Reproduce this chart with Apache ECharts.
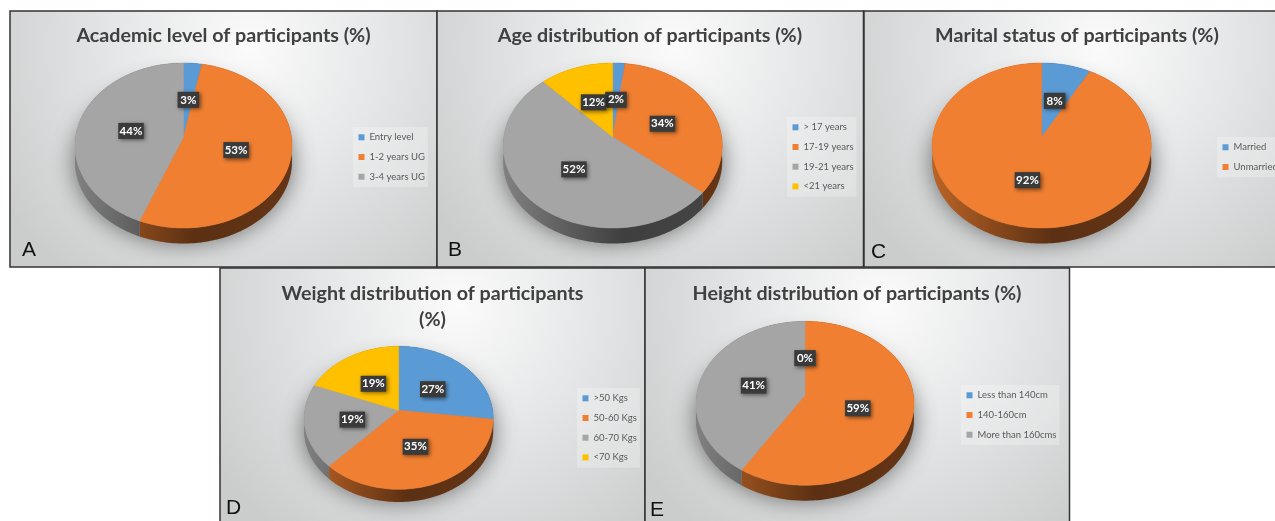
<!DOCTYPE html>
<html>
<head>
<meta charset="utf-8">
<style>html,body{margin:0;padding:0;background:#fff}#chart{width:1275px;height:521px}</style>
<script src="https://cdn.jsdelivr.net/npm/echarts@6/dist/echarts.min.js"></script>
</head>
<body>
<div id="chart"></div>
<script>
// Survey results, in percent
const academicLabels = ['Entry level', '1-2 years UG', '3-4 years UG'];
const academicValues = [3, 53, 44];
const ageLabels = ['> 17 years', '17-19 years', '19-21 years', '<21 years'];
const ageValues = [2, 34, 52, 12];
const maritalLabels = ['Married', 'Unmarried'];
const maritalValues = [8, 92];
const weightLabels = ['>50 Kgs', '50-60 Kgs', '60-70 Kgs', '<70 Kgs'];
const weightValues = [27, 35, 19, 19];
const heightLabels = ['Less than 140cm', '140-160cm', 'More than 160cms'];
const heightValues = [0, 59, 41];
const sliceColors = ['#5B9BD5', '#F07F31', '#A5A5A5', '#FFC000'];

// Panel frames, pie geometry and legend placement
const panels = [
  { letter: 'A', title: 'Academic level of participants (%)', labels: academicLabels, values: academicValues,
    box: [10, 11, 427, 256], cx: 183.5, rx: 108.5, top: 63, hub: 137, bottom: 228, depth: 15.5,
    titleX: 223.5, titleY: 22.5, letterX: 22, letterY: 250, legendX: 353, legendY: 127 },
  { letter: 'B', title: 'Age distribution of participants (%)', labels: ageLabels, values: ageValues,
    box: [437, 11, 426.5, 256], cx: 612.7, rx: 109.5, top: 63, hub: 137, bottom: 228, depth: 15.5,
    titleX: 650, titleY: 22.5, letterX: 448, letterY: 250, legendX: 787, legendY: 117 },
  { letter: 'C', title: 'Marital status of participants (%)', labels: maritalLabels, values: maritalValues,
    box: [864, 11, 420, 256], cx: 1041.7, rx: 109.5, top: 63, hub: 137, bottom: 228, depth: 15.5,
    titleX: 1077, titleY: 22.5, letterX: 871, letterY: 252, legendX: 1217, legendY: 137 },
  { letter: 'D', title: 'Weight distribution of participants\n(%)', labels: weightLabels, values: weightValues,
    box: [220, 268, 425, 262], cx: 398.7, rx: 94.5, top: 346.3, hub: 410.3, bottom: 489.3, depth: 12.7,
    titleX: 432.5, titleY: 280.5, letterX: 226, letterY: 508, legendX: 577, legendY: 388 },
  { letter: 'E', title: 'Height distribution of participants (%)', labels: heightLabels, values: heightValues,
    box: [645, 268, 424.5, 262], cx: 805, rx: 109, top: 321.3, hub: 395.3, bottom: 485.3, depth: 15.4,
    titleX: 857, titleY: 280.5, letterX: 650, letterY: 510, legendX: 961, legendY: 385 }
];

// Tilted-disc projection: a point on the unit disc is seen in perspective,
// so the hub sits above the middle of the elliptical outline.
function projector(p) {
  const up = p.hub - p.top, down = p.bottom - p.hub;
  const k = (down - up) / (down + up);
  const b = up * (1 + k);
  const a = p.rx * Math.sqrt(1 - k * k);
  return function (r, pct) {
    const t = pct / 100 * Math.PI * 2;
    const u = r * Math.sin(t), v = r * Math.cos(t), w = 1 + k * v;
    return [p.cx + a * u / w, p.hub - b * v / w];
  };
}

function shade(hex, f) {
  const n = parseInt(hex.slice(1), 16);
  const c = [n >> 16, (n >> 8) & 255, n & 255].map(x => Math.round(x * f));
  return 'rgb(' + c.join(',') + ')';
}

function sliceRenderer(p, color, order) {
  const project = projector(p);
  return function (params, api) {
    const value = api.value(0), start = api.value(1);
    const rim = [];
    const steps = Math.max(1, Math.ceil(value * 3));
    for (let i = 0; i <= steps; i++) rim.push(project(1, start + value * i / steps));
    const hub = project(0, 0);

    const wallPoints = rim.concat(rim.slice().reverse().map(q => [q[0], q[1] + p.depth]));
    const wallFill = new echarts.graphic.LinearGradient(p.cx - p.rx, 0, p.cx + p.rx, 0, [
      { offset: 0, color: shade(color, 0.78) },
      { offset: 0.3, color: shade(color, 0.56) },
      { offset: 0.55, color: shade(color, 0.38) },
      { offset: 1, color: shade(color, 0.42) }
    ], true);

    const mid = project(0.5, start + value / 2);
    const text = Math.round(value) + '%';
    const boxW = text.length > 2 ? 25.5 : 21.5, boxH = 16;
    const labelX = mid[0], labelY = mid[1] + 1.5;

    return {
      type: 'group',
      children: [
        { type: 'polygon', z2: 1, shape: { points: wallPoints }, style: { fill: wallFill } },
        value > 0
          ? { type: 'polygon', z2: 2, shape: { points: [hub].concat(rim) },
              style: { fill: color, stroke: color, lineWidth: 0.5 } }
          : { type: 'polyline', z2: 2, shape: { points: [hub, rim[0]] },
              style: { fill: null, stroke: color, lineWidth: 2 } },
        { type: 'rect', z2: 10 + order * 2,
          shape: { x: labelX - boxW / 2, y: labelY - boxH / 2, width: boxW, height: boxH },
          style: { fill: '#3a3a3a', shadowBlur: 4, shadowColor: 'rgba(0,0,0,0.5)', shadowOffsetX: 1.5, shadowOffsetY: 1.5 } },
        { type: 'text', z2: 11 + order * 2,
          style: { text: text, x: labelX, y: labelY, fill: '#ffffff', align: 'center', verticalAlign: 'middle',
                   font: 'bold 11.5px Lato, sans-serif' } }
      ]
    };
  };
}

const series = [];
const legends = [];
const titles = [];
const graphics = [];

panels.forEach(function (p) {
  const [bx, by, bw, bh] = p.box;

  // Panel background and frame
  graphics.push({
    type: 'rect', z: 0, silent: true,
    shape: { x: bx, y: by, width: bw, height: bh },
    style: {
      fill: new echarts.graphic.RadialGradient(bx + bw * 0.56, by + bh * 0.14, bw * 0.68, [
        { offset: 0, color: '#fbfbfb' },
        { offset: 0.45, color: '#e6e7e8' },
        { offset: 1, color: '#cbcccc' }
      ], true),
      stroke: '#333333', lineWidth: 1.5
    }
  });

  // Soft floor shadow beneath the disc
  const midY = (p.top + p.bottom) / 2;
  graphics.push({
    type: 'ellipse', z: 1, silent: true,
    shape: { cx: p.cx, cy: midY + p.depth + 1, rx: p.rx, ry: (p.bottom - p.top) / 2 - 2 },
    style: { fill: '#888888', shadowBlur: 24, shadowColor: 'rgba(50,50,50,0.7)' }
  });

  // Panel letter
  graphics.push({
    type: 'text', z: 3, silent: true, x: p.letterX, y: p.letterY,
    style: { text: p.letter, fill: '#111111', font: '21px "Liberation Sans", sans-serif', verticalAlign: 'middle' }
  });

  titles.push({
    text: p.title, left: p.titleX, top: p.titleY, textAlign: 'center', padding: 0,
    textStyle: { fontFamily: 'Lato', fontWeight: 'bold', fontSize: 19.7, lineHeight: 26, color: '#404040' }
  });

  legends.push({
    orient: 'vertical', left: p.legendX, top: p.legendY, padding: [3.8, 3, 3.8, 5.5],
    data: p.labels, selectedMode: false, icon: 'rect',
    itemWidth: 6, itemHeight: 6, itemGap: 6.7,
    backgroundColor: 'rgba(255,255,255,0.25)',
    textStyle: { fontFamily: 'Lato', fontSize: 9.5, lineHeight: 13, color: '#595959' }
  });

  let cumulative = 0;
  p.labels.forEach(function (name, i) {
    const color = sliceColors[i];
    series.push({
      type: 'custom', name: name, coordinateSystem: 'none', silent: true, animation: false,
      itemStyle: { color: color },
      data: [[p.values[i], cumulative]],
      renderItem: sliceRenderer(p, color, i)
    });
    cumulative += p.values[i];
  });
});

const chart = echarts.init(document.getElementById('chart'), null, { renderer: 'canvas' });
chart.setOption({
  animation: false,
  backgroundColor: '#ffffff',
  title: titles,
  legend: legends,
  graphic: { elements: graphics },
  series: series
});
</script>
</body>
</html>
